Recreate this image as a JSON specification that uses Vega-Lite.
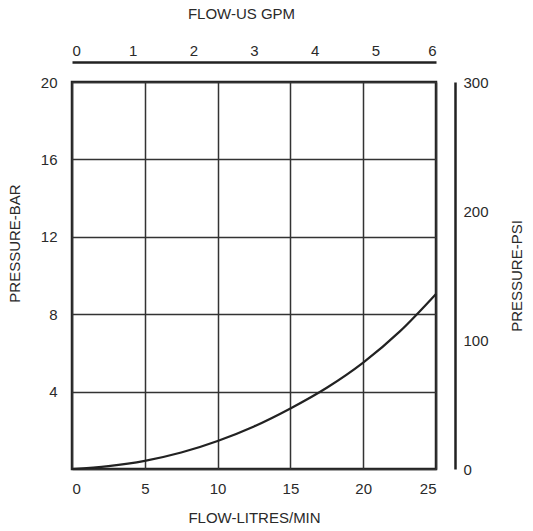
{
  "$schema": "https://vega.github.io/schema/vega-lite/v6.json",
  "autosize": {"type": "none"},
  "padding": {"left": 72, "top": 82, "right": 97, "bottom": 62},
  "width": 364,
  "height": 387,
  "background": "white",
  "config": {
    "view": {"stroke": "#222", "strokeWidth": 2.5},
    "font": "Liberation Sans",
    "axis": {
      "labelFont": "Liberation Sans",
      "titleFont": "Liberation Sans",
      "labelFontSize": 15,
      "titleFontSize": 15,
      "titleFontWeight": "normal",
      "labelColor": "#2a2a2a",
      "titleColor": "#2a2a2a",
      "ticks": false,
      "tickSize": 0,
      "grid": false
    }
  },
  "datasets": {
    "curve": [
      {"flow": 0, "bar": 0},
      {"flow": 2.5, "bar": 0.15},
      {"flow": 5, "bar": 0.42},
      {"flow": 7.5, "bar": 0.85},
      {"flow": 10, "bar": 1.45},
      {"flow": 12.5, "bar": 2.2},
      {"flow": 15, "bar": 3.13},
      {"flow": 17.5, "bar": 4.2},
      {"flow": 20, "bar": 5.5},
      {"flow": 22.5, "bar": 7.1},
      {"flow": 25, "bar": 9.05}
    ],
    "axes": [
      {"gpm": 0, "psi": 0},
      {"gpm": 6, "psi": 300}
    ]
  },
  "layer": [
    {
      "data": {"name": "curve"},
      "mark": {"type": "line", "color": "#222", "strokeWidth": 2.2, "interpolate": "monotone"},
      "encoding": {
        "x": {
          "field": "flow", "type": "quantitative",
          "scale": {"domain": [0, 25], "nice": false, "zero": false},
          "axis": {
            "orient": "bottom", "values": [0, 5, 10, 15, 20, 25],
            "grid": true, "gridColor": "#333", "gridWidth": 1.5, "gridOpacity": 1,
            "domain": false, "labelPadding": 12,
            "title": "FLOW-LITRES/MIN", "titlePadding": 14
          }
        },
        "y": {
          "field": "bar", "type": "quantitative",
          "scale": {"domain": [0, 20], "nice": false},
          "axis": {
            "orient": "left", "values": [0, 4, 8, 12, 16, 20],
            "grid": true, "gridColor": "#333", "gridWidth": 1.5, "gridOpacity": 1,
            "domain": false, "labelPadding": 15,
            "labelExpr": "datum.value == 0 ? '' : datum.label",
            "title": "PRESSURE-BAR", "titlePadding": 18, "titleY": 161
          }
        }
      }
    },
    {
      "data": {"name": "axes"},
      "mark": {"type": "point", "opacity": 0},
      "encoding": {
        "x": {
          "field": "gpm", "type": "quantitative",
          "scale": {"domain": [0, 6], "nice": false},
          "axis": {
            "orient": "top", "values": [0, 1, 2, 3, 4, 5, 6], "offset": 20,
            "domain": true, "domainColor": "#222", "domainWidth": 2.5,
            "labelPadding": 4, "title": "FLOW-US GPM", "titlePadding": 22,
            "titleX": 169
          }
        },
        "y": {
          "field": "psi", "type": "quantitative",
          "scale": {"domain": [0, 300], "nice": false},
          "axis": {
            "orient": "right", "values": [0, 100, 200, 300], "offset": 19,
            "domain": true, "domainColor": "#222", "domainWidth": 2.5,
            "labelPadding": 8, "title": "PRESSURE-PSI", "titleAngle": 270,
            "titlePadding": 36
          }
        }
      }
    }
  ],
  "resolve": {"scale": {"x": "independent", "y": "independent"}, "axis": {"x": "independent", "y": "independent"}}
}
